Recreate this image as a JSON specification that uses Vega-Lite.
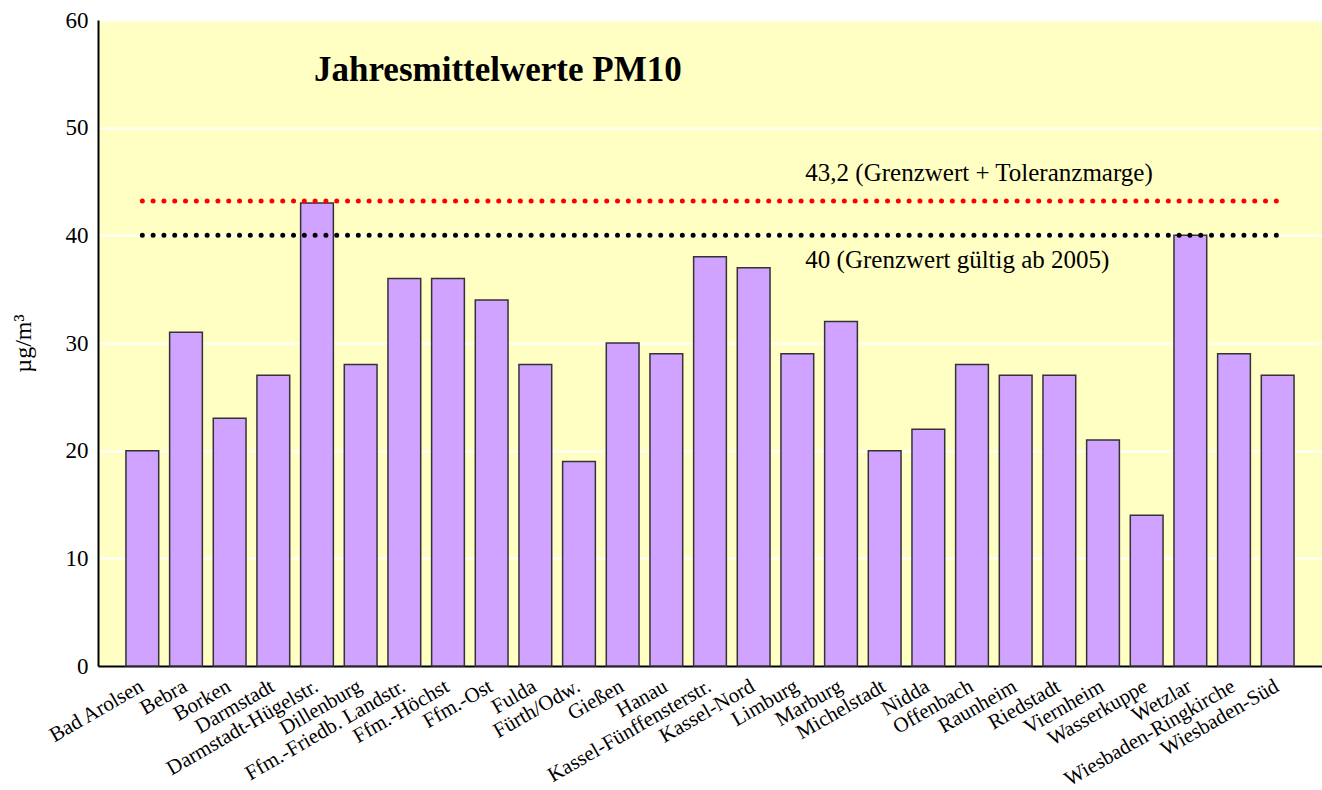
{
  "$schema": "https://vega.github.io/schema/vega-lite/v6.json",
  "width": 1224,
  "height": 646,
  "autosize": {"type": "none"},
  "padding": {"left": 98, "top": 20, "right": 0, "bottom": 124},
  "background": "white",
  "config": {
    "view": {"fill": "#FFFFC4", "stroke": null},
    "font": "Liberation Serif"
  },
  "datasets": {
    "stations": [
      {"station": "Bad Arolsen", "pm10": 20},
      {"station": "Bebra", "pm10": 31},
      {"station": "Borken", "pm10": 23},
      {"station": "Darmstadt", "pm10": 27},
      {"station": "Darmstadt-Hügelstr.", "pm10": 43},
      {"station": "Dillenburg", "pm10": 28},
      {"station": "Ffm.-Friedb. Landstr.", "pm10": 36},
      {"station": "Ffm.-Höchst", "pm10": 36},
      {"station": "Ffm.-Ost", "pm10": 34},
      {"station": "Fulda", "pm10": 28},
      {"station": "Fürth/Odw.", "pm10": 19},
      {"station": "Gießen", "pm10": 30},
      {"station": "Hanau", "pm10": 29},
      {"station": "Kassel-Fünffensterstr.", "pm10": 38},
      {"station": "Kassel-Nord", "pm10": 37},
      {"station": "Limburg", "pm10": 29},
      {"station": "Marburg", "pm10": 32},
      {"station": "Michelstadt", "pm10": 20},
      {"station": "Nidda", "pm10": 22},
      {"station": "Offenbach", "pm10": 28},
      {"station": "Raunheim", "pm10": 27},
      {"station": "Riedstadt", "pm10": 27},
      {"station": "Viernheim", "pm10": 21},
      {"station": "Wasserkuppe", "pm10": 14},
      {"station": "Wetzlar", "pm10": 40},
      {"station": "Wiesbaden-Ringkirche", "pm10": 29},
      {"station": "Wiesbaden-Süd", "pm10": 27}
    ],
    "limits": [
      {"von": "Bad Arolsen", "bis": "Wiesbaden-Süd", "wert": 43.2, "farbe": "#FF0000"},
      {"von": "Bad Arolsen", "bis": "Wiesbaden-Süd", "wert": 40, "farbe": "#000000"}
    ],
    "notes": [
      {"station": "Limburg", "y": 45.8, "text": "43,2 (Grenzwert + Toleranzmarge)"},
      {"station": "Limburg", "y": 37.7, "text": "40 (Grenzwert gültig ab 2005)"}
    ],
    "headline": [
      {"station": "Darmstadt-Hügelstr.", "y": 55.4, "text": "Jahresmittelwerte PM10"}
    ]
  },
  "layer": [
    {
      "data": {"name": "stations"},
      "mark": {"type": "bar", "fill": "#CFA3FF", "stroke": "#333333", "strokeWidth": 1.5},
      "encoding": {
        "x": {
          "field": "station",
          "type": "nominal",
          "sort": null,
          "scale": {"paddingInner": 0.25, "paddingOuter": 0.64},
          "axis": {
            "title": null,
            "labelAngle": -30,
            "labelAlign": "right",
            "labelBaseline": "top",
            "labelFontSize": 21,
            "labelColor": "#000000",
            "labelPadding": 9,
            "labelOffset": -6,
            "ticks": false,
            "domainColor": "#000000",
            "domainWidth": 2,
            "labelOverlap": false,
            "labelLimit": 400
          }
        },
        "y": {
          "field": "pm10",
          "type": "quantitative",
          "scale": {"domain": [0, 60], "nice": false},
          "axis": {
            "title": "µg/m³",
            "titleFontSize": 24,
            "titleFontWeight": "normal",
            "titleColor": "#000000",
            "titlePadding": 30,
            "values": [0, 10, 20, 30, 40, 50, 60],
            "labelFontSize": 23,
            "labelColor": "#000000",
            "labelPadding": 10,
            "ticks": false,
            "grid": true,
            "gridColor": "#FFFFFF",
            "gridWidth": 2,
            "domainColor": "#000000",
            "domainWidth": 2
          }
        }
      }
    },
    {
      "data": {"name": "limits"},
      "mark": {"type": "rule", "strokeWidth": 5, "strokeDash": [0, 10.8], "strokeCap": "round"},
      "encoding": {
        "x": {"field": "von", "type": "nominal", "sort": null},
        "x2": {"field": "bis"},
        "y": {"field": "wert", "type": "quantitative"},
        "color": {"field": "farbe", "type": "nominal", "scale": null}
      }
    },
    {
      "data": {"name": "notes"},
      "mark": {"type": "text", "align": "left", "baseline": "middle", "dx": 8, "fontSize": 25, "color": "#000000"},
      "encoding": {
        "x": {"field": "station", "type": "nominal", "sort": null},
        "y": {"field": "y", "type": "quantitative"},
        "text": {"field": "text"}
      }
    },
    {
      "data": {"name": "headline"},
      "mark": {"type": "text", "align": "left", "baseline": "middle", "dx": -3, "fontSize": 35, "fontWeight": "bold", "color": "#000000"},
      "encoding": {
        "x": {"field": "station", "type": "nominal", "sort": null},
        "y": {"field": "y", "type": "quantitative"},
        "text": {"field": "text"}
      }
    }
  ]
}
